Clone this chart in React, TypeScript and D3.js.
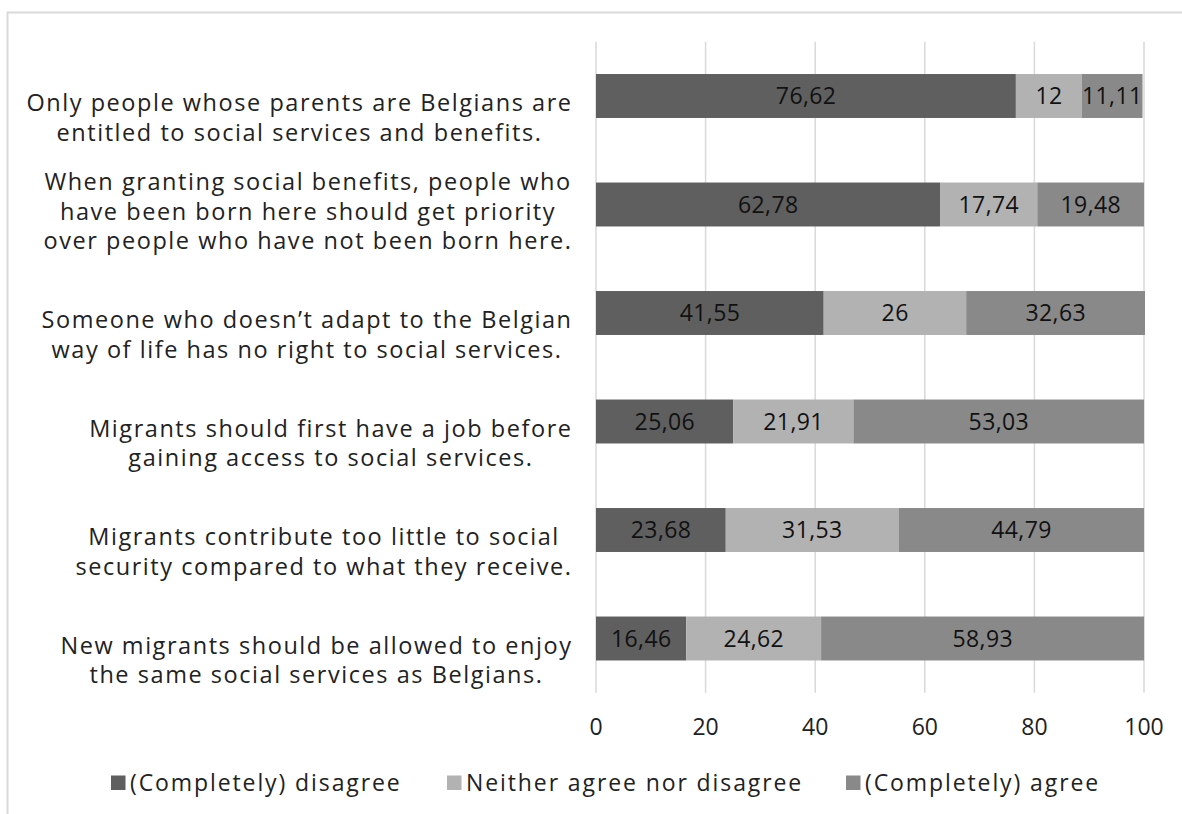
import React from "react";
import * as d3 from "d3";

const categories: string[][] = [
  ["Only people whose parents are Belgians are", "entitled to social services and benefits."],
  ["When granting social benefits, people who", "have been born here should get priority", "over people who have not been born here."],
  ["Someone who doesn\u2019t adapt to the Belgian", "way of life has no right to social services."],
  ["Migrants should first have a job before", "gaining access to social services."],
  ["Migrants contribute too little to social", "security compared to what they receive."],
  ["New migrants should be allowed to enjoy", "the same social services as Belgians."],
];
const seriesNames = ["(Completely) disagree", "Neither agree nor disagree", "(Completely) agree"];
const disagree = [76.62, 62.78, 41.55, 25.06, 23.68, 16.46];
const neither = [12, 17.74, 26, 21.91, 31.53, 24.62];
const agree = [11.11, 19.48, 32.63, 53.03, 44.79, 58.93];
const xTicks = [0, 20, 40, 60, 80, 100];
const colors = ["#5f5f5f", "#b2b2b2", "#898989"];

const W = 1182, H = 814;
const FONT = "'Open Sans', sans-serif";
const LABEL_SIZE = 23.5;
const LABEL_LS = 1.55;
const VALUE_SIZE = 23;
const VALUE_LS = 0.4;
const LEGEND_LS = 1.9;

let ctx: CanvasRenderingContext2D | null = null;
function measure(t: string, size: number, ls: number) {
  if (!ctx) ctx = document.createElement("canvas").getContext("2d");
  if (!ctx) return t.length * (size * 0.5 + ls);
  ctx.font = `${size}px 'Open Sans', sans-serif`;
  return ctx.measureText(t).width + (t.length - 1) * ls;
}

function fmt(v: number) {
  return (Number.isInteger(v) ? String(v) : d3.format(".2f")(v)).replace(".", ",");
}

export default function App() {
  const x = d3.scaleLinear().domain([0, 100]).range([596, 1144]);
  const y = d3.scaleBand<number>().domain(d3.range(categories.length)).range([41.75, 692.75]).paddingInner(0.595).paddingOuter(0.2975);
  const series = [disagree, neither, agree];
  const stacked = categories.map((_, i) => {
    let acc = 0;
    return series.map((s, k) => {
      const x0 = acc;
      acc += s[i];
      return { k, x0, x1: acc, v: s[i] };
    });
  });
  const lineH = 29.5;
  const labelRight = 571;
  const legendItems = [
    { x: 111, name: seriesNames[0], c: colors[0] },
    { x: 447, name: seriesNames[1], c: colors[1] },
    { x: 846, name: seriesNames[2], c: colors[2] },
  ];
  const textFill = "#222";
  return (
    <svg width={W} height={H} style={{ position: "absolute", left: 0, top: 0, background: "#fff" }} fontFamily={FONT}>
      <rect x={7.5} y={12.5} width={W + 20} height={H + 20} fill="#fff" stroke="#d9d9d9" strokeWidth={2} />
      {xTicks.map((t) => (
        <line key={t} x1={x(t)} x2={x(t)} y1={41.75} y2={692.75} stroke="#d9d9d9" strokeWidth={1.5} />
      ))}
      {stacked.map((row, i) =>
        row.map((seg) => {
          const s = fmt(seg.v);
          const cx = (x(seg.x0) + x(seg.x1)) / 2;
          return (
            <g key={`${i}-${seg.k}`}>
              <rect x={x(seg.x0)} y={y(i)!} width={x(seg.x1) - x(seg.x0)} height={y.bandwidth()} fill={colors[seg.k]} />
              <text x={cx - measure(s, VALUE_SIZE, VALUE_LS) / 2} y={y(i)! + y.bandwidth() / 2} dy="0.35em" fontSize={VALUE_SIZE} letterSpacing={VALUE_LS} fill="#111">
                {s}
              </text>
            </g>
          );
        })
      )}
      {categories.map((lines, i) => {
        const maxW = Math.max(...lines.map((l) => measure(l, LABEL_SIZE, LABEL_LS)));
        const left = labelRight - maxW;
        const c = y(i)! + y.bandwidth() / 2;
        const lastY = c + 36.5;
        return (
          <text key={i} fontSize={LABEL_SIZE} letterSpacing={LABEL_LS} fill={textFill}>
            {lines.map((l, j) => (
              <tspan key={j} x={left + (maxW - measure(l, LABEL_SIZE, LABEL_LS)) / 2} y={lastY - (lines.length - 1 - j) * lineH} dy="0.35em">{l}</tspan>
            ))}
          </text>
        );
      })}
      {xTicks.map((t) => (
        <text key={t} x={x(t)} y={727} dy="0.35em" textAnchor="middle" fontSize={VALUE_SIZE} fill={textFill}>{t}</text>
      ))}
      {legendItems.map((it) => (
        <g key={it.name}>
          <rect x={it.x} y={775.5} width={14.5} height={14.5} fill={it.c} />
          <text x={it.x + 19} y={783} dy="0.35em" fontSize={VALUE_SIZE} letterSpacing={LEGEND_LS} fill={textFill}>{it.name}</text>
        </g>
      ))}
    </svg>
  );
}
